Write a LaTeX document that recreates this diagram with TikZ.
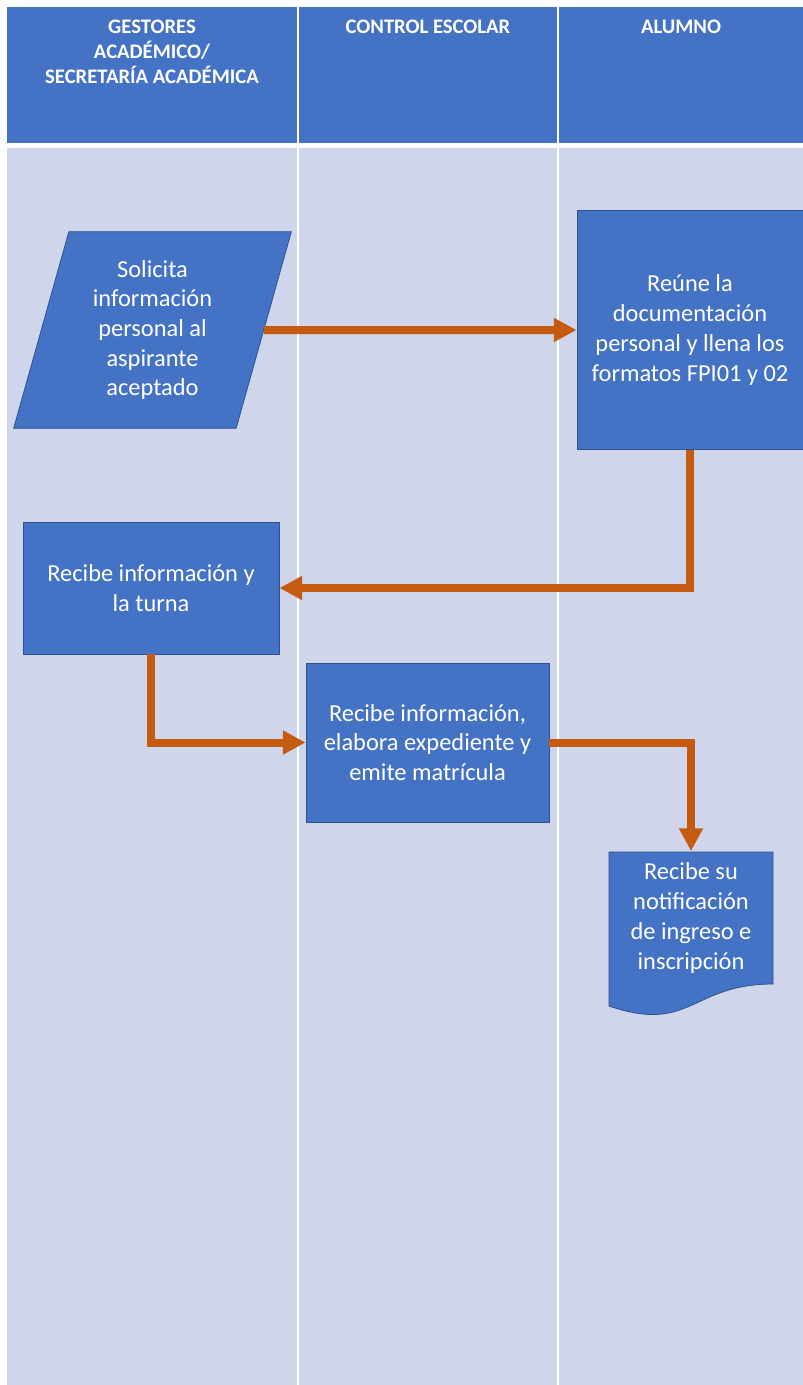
\documentclass[tikz,border=0pt]{standalone}
\usepackage{fontspec}
\setmainfont{Carlito}
\usetikzlibrary{arrows.meta,shapes.geometric}
\definecolor{hdr}{HTML}{4472C4}
\definecolor{lane}{HTML}{CFD5EA}
\definecolor{boxfill}{HTML}{4472C4}
\definecolor{boxline}{HTML}{2F528F}
\definecolor{arrowc}{HTML}{C55A11}
\tikzset{
  head/.style={text=white, font=\bfseries\fontsize{15.5}{18.75}\selectfont, align=center, anchor=north, inner sep=0pt},
  proc/.style={draw=boxline, fill=boxfill, line width=0.6pt, text=white, align=center, font=\fontsize{18.3}{22.3}\selectfont, inner sep=0pt},
  io/.style={proc, trapezium, trapezium left angle=74.25, trapezium right angle=105.75},
  link/.style={draw=arrowc, line width=6pt, -{Triangle[length=17pt,width=17pt]}}
}

\begin{document}
\begin{tikzpicture}[x=0.75pt,y=-0.75pt]
\useasboundingbox (0,0) rectangle (803,1385);
% lanes
\fill[hdr] (7,7) rectangle (803,143);
\fill[lane] (7,148) rectangle (803,1385);
\draw[white, line width=1.5pt] (298,7) -- (298,1385) (558,7) -- (558,1385);
% headers
\node[head] (h1) at (152,20) {GESTORES\\ACADÉMICO/\\SECRETARÍA ACADÉMICA};
\node[head] (h2) at (428,20) {CONTROL ESCOLAR};
\node[head] (h3) at (681,20) {ALUMNO};
% steps
\node[io, minimum width=208.5pt, minimum height=146.25pt] (solic) at (152.5,330) {Solicita\\información\\personal al\\aspirante\\aceptado};
\node[proc, minimum width=169.5pt, minimum height=179.25pt] (reune) at (690,330) {Reúne la\\documentación\\personal y llena los\\formatos FPI01 y 02};
\node[proc, minimum width=192pt, minimum height=99pt] (turna) at (151,588) {Recibe información y\\la turna};
\node[proc, minimum width=182.25pt, minimum height=119.25pt] (exped) at (427.5,742.5) {Recibe información,\\elabora expediente y\\emite matrícula};
% document
\filldraw[fill=boxfill, draw=boxline, line width=0.6pt] (609,852) -- (773,852) -- (773,984) .. controls (691,984) and (691,1034) .. (609,1006) -- cycle;
\node[proc, draw=none, fill=none, minimum width=123pt, minimum height=99.75pt] (notif) at (691,918) {Recibe su\\notificación\\de ingreso e\\inscripción};
% arrows
\draw[link] (solic.east) -- (reune.west);
\draw[link] (reune.south) |- (turna.east);
\draw[link] (turna.south) |- (exped.west);
\draw[link] (exped.east) -| (notif.north);
\end{tikzpicture}
\end{document}
